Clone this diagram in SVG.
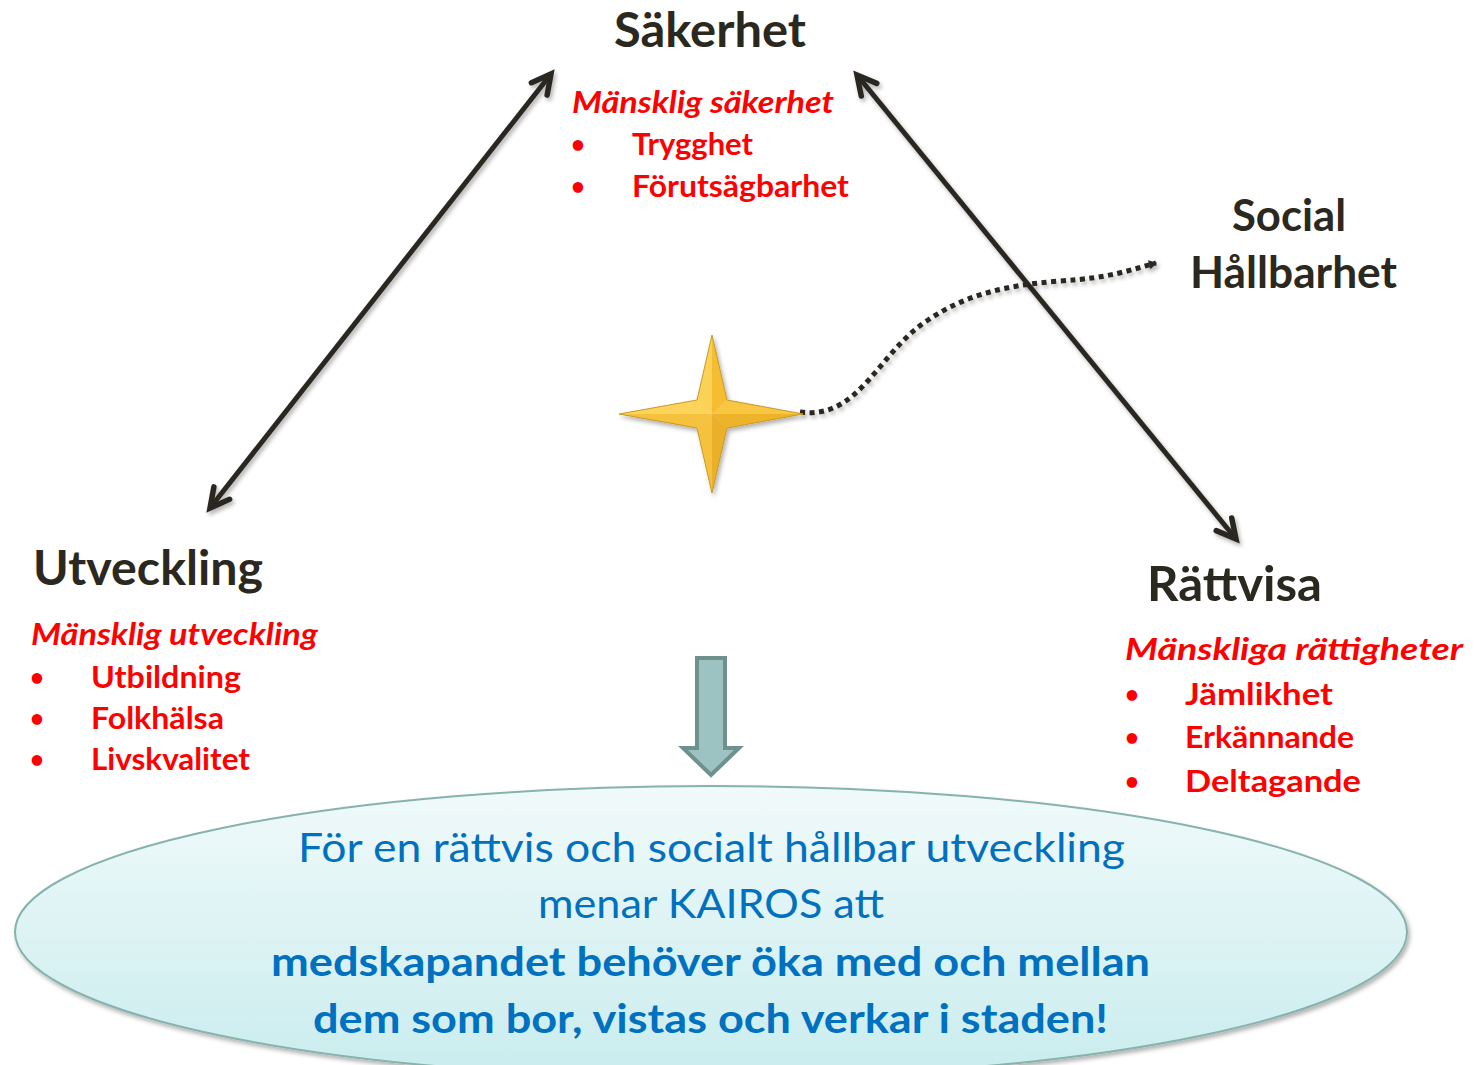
<svg xmlns="http://www.w3.org/2000/svg" width="1476" height="1065" viewBox="0 0 1476 1065">
<style>
.h{font-family:Lato,'Liberation Sans',sans-serif;font-weight:bold;fill:#2b2820;font-size:47px}
.s{font-family:Lato,'Liberation Sans',sans-serif;font-weight:bold;font-style:italic;fill:#ff0000;font-size:31px}
.b{font-family:Lato,'Liberation Sans',sans-serif;font-weight:bold;fill:#ff0000;font-size:31px}
.d{font-family:Lato,'Liberation Sans',sans-serif;font-weight:bold;fill:#ff0000;font-size:24px}
.e{font-family:Lato,'Liberation Sans',sans-serif;fill:#0070c0;font-size:41px}
.eb{font-family:Lato,'Liberation Sans',sans-serif;font-weight:bold;fill:#0070c0;font-size:41px}
.ln{stroke:#2b2820;stroke-width:5;fill:none;marker-start:url(#ah);marker-end:url(#ah)}
</style>
<defs>
<marker id="ah" markerUnits="userSpaceOnUse" markerWidth="40" markerHeight="40" viewBox="-30 -20 40 40" refX="0" refY="0" orient="auto-start-reverse">
<path d="M-19,-10 L0,0 L-19,10" fill="none" stroke="#2b2820" stroke-width="5.5" stroke-linecap="round" stroke-linejoin="miter"/>
</marker>
<marker id="sa" markerUnits="userSpaceOnUse" markerWidth="14" markerHeight="14" viewBox="-8 -6 12 12" refX="0" refY="0" orient="auto">
<path d="M-6,-4 L1,0 L-6,4 Z" fill="#2b2820"/>
</marker>
<filter id="sh" x="-10%" y="-10%" width="130%" height="130%">
<feDropShadow dx="2" dy="3" stdDeviation="2" flood-color="#000" flood-opacity="0.3"/>
</filter>
<linearGradient id="eg" x1="0" y1="0" x2="0" y2="1">
<stop offset="0" stop-color="#f1fafa"/>
<stop offset="1" stop-color="#c9ecee"/>
</linearGradient>
</defs>

<g id="ellipse">
<ellipse cx="711" cy="932" rx="696" ry="146" fill="url(#eg)" stroke="#86b3ad" stroke-width="2" filter="url(#sh)"/>
<text class="e" x="298" y="862" textLength="827" lengthAdjust="spacingAndGlyphs">För en rättvis och socialt hållbar utveckling</text>
<text class="e" x="538" y="918" textLength="346" lengthAdjust="spacingAndGlyphs">menar KAIROS att</text>
<text class="eb" x="271" y="976" textLength="879" lengthAdjust="spacingAndGlyphs">medskapandet behöver öka med och mellan</text>
<text class="eb" x="313" y="1033" textLength="795" lengthAdjust="spacingAndGlyphs">dem som bor, vistas och verkar i staden!</text>
</g>

<g id="connectors">
<line class="ln" x1="210" y1="508" x2="551" y2="74" filter="url(#sh)"/>
<line class="ln" x1="857" y1="75" x2="1236" y2="539" filter="url(#sh)"/>
<line class="ln" x1="398" y1="642" x2="1064" y2="642" filter="url(#sh)"/>
<path d="M800,412 C860,420 878,352 928,320 C968,293 1010,285 1060,281 C1110,278 1130,270 1156,263" fill="none" stroke="#2b2820" stroke-width="5" stroke-dasharray="5 4.5" marker-end="url(#sa)" filter="url(#sh)"/>
</g>

<g id="down-arrow">
<path d="M697,658 L725,658 L725,748 L739,748 L711,775 L683,748 L697,748 Z" fill="#9cc3c1" stroke="#6f918d" stroke-width="4" stroke-linejoin="miter"/>
</g>

<g id="star" filter="url(#sh)">
<polygon points="712,335 697,400 712,414" fill="#fbd257"/>
<polygon points="712,335 727,400 712,414" fill="#f4bd32"/>
<polygon points="803,414 727,400 712,414" fill="#f8c640"/>
<polygon points="803,414 727,428 712,414" fill="#edb42c"/>
<polygon points="712,493 727,428 712,414" fill="#ebb02a"/>
<polygon points="712,493 697,428 712,414" fill="#f6c23c"/>
<polygon points="619,414 697,428 712,414" fill="#f6c23c"/>
<polygon points="619,414 697,400 712,414" fill="#fcd45c"/>
<polygon points="712,335 727,400 803,414 727,428 712,493 697,428 619,414 697,400" fill="none" stroke="#c99a22" stroke-width="1"/>
</g>

<g id="sakerhet">
<text class="h" x="614" y="47" textLength="192" lengthAdjust="spacingAndGlyphs">Säkerhet</text>
<text class="s" x="572" y="113" textLength="262" lengthAdjust="spacingAndGlyphs">Mänsklig säkerhet</text>
<text class="d" x="571" y="153">•</text>
<text class="b" x="632" y="155" textLength="121" lengthAdjust="spacingAndGlyphs">Trygghet</text>
<text class="d" x="571" y="195">•</text>
<text class="b" x="632" y="197" textLength="217" lengthAdjust="spacingAndGlyphs">Förutsägbarhet</text>
</g>

<g id="social-hallbarhet">
<text class="h" x="1232" y="231" textLength="114" lengthAdjust="spacingAndGlyphs" style="font-size:43px">Social</text>
<text class="h" x="1190" y="288" textLength="207" lengthAdjust="spacingAndGlyphs" style="font-size:43px">Hållbarhet</text>
</g>

<g id="utveckling">
<text class="h" x="33" y="585" textLength="230" lengthAdjust="spacingAndGlyphs">Utveckling</text>
<text class="s" x="31" y="645" textLength="287" lengthAdjust="spacingAndGlyphs">Mänsklig utveckling</text>
<text class="d" x="30" y="686">•</text>
<text class="b" x="91" y="688" textLength="150" lengthAdjust="spacingAndGlyphs">Utbildning</text>
<text class="d" x="30" y="727">•</text>
<text class="b" x="91" y="729" textLength="133" lengthAdjust="spacingAndGlyphs">Folkhälsa</text>
<text class="d" x="30" y="768">•</text>
<text class="b" x="91" y="770" textLength="159" lengthAdjust="spacingAndGlyphs">Livskvalitet</text>
</g>

<g id="rattvisa">
<text class="h" x="1147" y="601" textLength="175" lengthAdjust="spacingAndGlyphs">Rättvisa</text>
<text class="s" x="1125" y="660" textLength="338" lengthAdjust="spacingAndGlyphs">Mänskliga rättigheter</text>
<text class="d" x="1125" y="703">•</text>
<text class="b" x="1185" y="705" textLength="148" lengthAdjust="spacingAndGlyphs">Jämlikhet</text>
<text class="d" x="1125" y="746">•</text>
<text class="b" x="1185" y="748" textLength="169" lengthAdjust="spacingAndGlyphs">Erkännande</text>
<text class="d" x="1125" y="790">•</text>
<text class="b" x="1185" y="792" textLength="176" lengthAdjust="spacingAndGlyphs">Deltagande</text>
</g>
</svg>
